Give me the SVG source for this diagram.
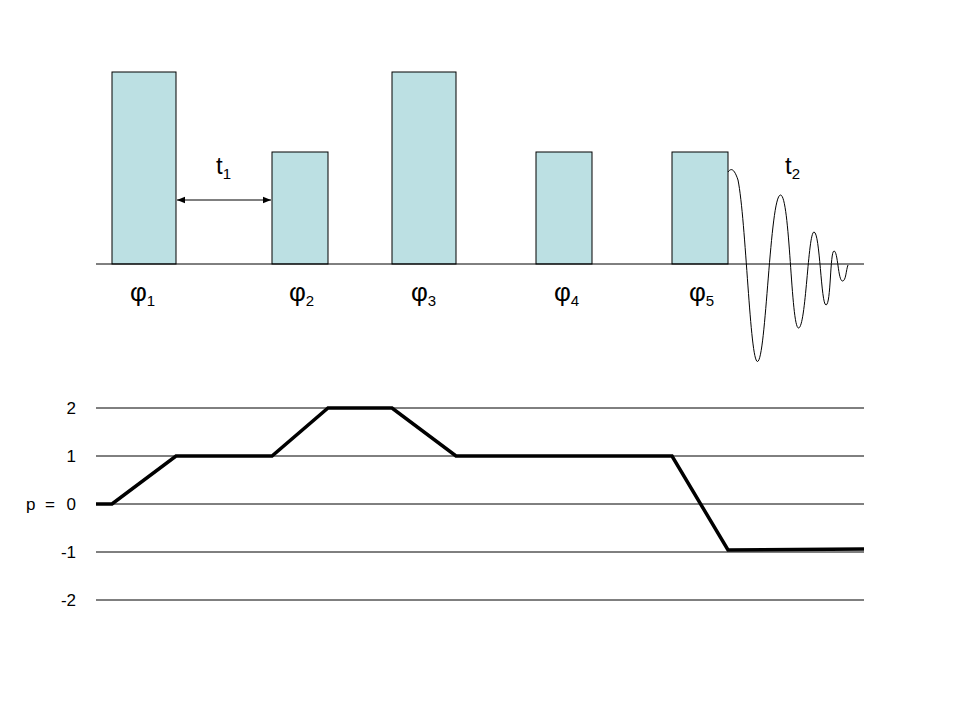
<svg xmlns="http://www.w3.org/2000/svg" width="960" height="720" viewBox="0 0 960 720">
<defs>
<marker id="ah" viewBox="0 0 10 10" refX="10" refY="5" markerWidth="8" markerHeight="8" orient="auto-start-reverse" markerUnits="userSpaceOnUse">
<path d="M0,1 L10,5 L0,9 Z" fill="#000"/>
</marker>
<style>
.bar{fill:#BCE0E3;stroke:#000;stroke-width:1}
.ln{stroke:#000;stroke-width:1;fill:none}
.t{font-family:"Liberation Sans",Arial,sans-serif;fill:#000}
.phi{font-size:26px}
.big{font-size:24px}
.sub{font-size:15px}
.ax{font-size:17px;text-anchor:end}
</style>
</defs>
<rect width="960" height="720" fill="#fff"/>
<g id="pulses">
<g id="p1"><rect class="bar" x="112" y="72" width="64" height="192"/></g>
<g id="p2"><rect class="bar" x="272" y="152" width="56" height="112"/></g>
<g id="p3"><rect class="bar" x="392" y="72" width="64" height="192"/></g>
<g id="p4"><rect class="bar" x="536" y="152" width="56" height="112"/></g>
<g id="p5"><rect class="bar" x="672" y="152" width="56" height="112"/></g>
</g>
<g id="connectors">
<line class="ln" x1="96" y1="264" x2="864" y2="264"/>
<line class="ln" x1="177" y1="200" x2="271" y2="200" marker-start="url(#ah)" marker-end="url(#ah)"/>
<path class="ln" d="M728,172 C731,168 734,168 738,180 C746,220 750,362 757.5,361.5 C766,361 770,195 780.5,195 C790,195 791,328 798.5,328 C806,328 808,232 814,232 C820,232 821,305 826,305 C831,305 830,251 834,251 C838,251 838,281 842.5,281 C846,281 846,270 848,265"/>
</g>
<g id="labels" class="t">
<text class="big" x="216" y="174">t<tspan class="sub" dy="5">1</tspan></text>
<text class="big" x="785" y="174">t<tspan class="sub" dy="5">2</tspan></text>
<text class="phi" x="130" y="301">φ<tspan class="sub" dy="5">1</tspan></text>
<text class="phi" x="289" y="301">φ<tspan class="sub" dy="5">2</tspan></text>
<text class="phi" x="411" y="301">φ<tspan class="sub" dy="5">3</tspan></text>
<text class="phi" x="554" y="301">φ<tspan class="sub" dy="5">4</tspan></text>
<text class="phi" x="689" y="301">φ<tspan class="sub" dy="5">5</tspan></text>
</g>
<g id="levels">
<line class="ln" x1="96" y1="408" x2="864" y2="408"/>
<line class="ln" x1="96" y1="456" x2="864" y2="456"/>
<line class="ln" x1="96" y1="504" x2="864" y2="504"/>
<line class="ln" x1="96" y1="552" x2="864" y2="552"/>
<line class="ln" x1="96" y1="600" x2="864" y2="600"/>
<text class="t ax" x="76" y="414">2</text>
<text class="t ax" x="76" y="462">1</text>
<text class="t" style="font-size:17px" x="26" y="510">p</text>
<text class="t" style="font-size:17px" x="45" y="510">=</text>
<text class="t ax" x="76" y="510">0</text>
<text class="t ax" x="76" y="558">-1</text>
<text class="t ax" x="76" y="606">-2</text>
</g>
<g id="pathway">
<polyline points="96,504 112,504 176,456 272,456 328,408 392,408 456,456 672,456 728,550 864,549" fill="none" stroke="#000" stroke-width="3.5" stroke-linejoin="miter"/>
</g>
</svg>
